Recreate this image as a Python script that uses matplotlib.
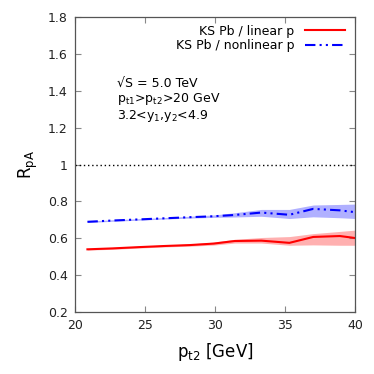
import numpy as np
import matplotlib
matplotlib.use("Agg")
import matplotlib.pyplot as plt

# values
pt2 = [20.9, 22.7, 24.6, 26.4, 28.2, 29.9, 31.4, 33.3, 35.3, 37.0, 38.9, 40.0]

lin = [0.541, 0.546, 0.553, 0.559, 0.564, 0.572, 0.586, 0.588, 0.576, 0.608, 0.613, 0.602]
lin_lo = [0.537, 0.541, 0.548, 0.554, 0.558, 0.564, 0.575, 0.575, 0.563, 0.565, 0.563, 0.563]
lin_hi = [0.545, 0.551, 0.558, 0.564, 0.570, 0.580, 0.595, 0.605, 0.610, 0.626, 0.638, 0.645]

nonlin = [0.690, 0.697, 0.703, 0.709, 0.715, 0.720, 0.727, 0.740, 0.728, 0.760, 0.752, 0.742]
nonlin_lo = [0.686, 0.693, 0.699, 0.705, 0.710, 0.714, 0.716, 0.720, 0.708, 0.717, 0.712, 0.708]
nonlin_hi = [0.694, 0.701, 0.707, 0.713, 0.720, 0.727, 0.739, 0.757, 0.757, 0.781, 0.784, 0.786]

plt.rcParams["font.family"] = "DejaVu Sans"
plt.rcParams["font.size"] = 9

fig = plt.figure(figsize=(3.74, 3.74), dpi=100)
ax = fig.add_axes([0.2, 0.165, 0.75, 0.79])

ax.fill_between(pt2, lin_lo, lin_hi, color="#ffb0b0", lw=0)
ax.fill_between(pt2, nonlin_lo, nonlin_hi, color="#b0b0ff", lw=0)
ax.plot(pt2, lin, color="red", lw=1.5, label="KS Pb / linear p")
ax.plot(pt2, nonlin, color="blue", lw=1.5, dashes=[5, 2, 1, 2, 1, 2],
        label="KS Pb / nonlinear p")
ax.axhline(1.0, color="black", lw=1, ls=(0, (1, 2)))

ax.set_xlim(20, 40)
ax.set_ylim(0.2, 1.8)
ax.set_xticks([20, 25, 30, 35, 40])
ax.set_yticks([0.2, 0.4, 0.6, 0.8, 1.0, 1.2, 1.4, 1.6, 1.8])
ax.set_yticklabels(["0.2", "0.4", "0.6", "0.8", "1", "1.2", "1.4", "1.6", "1.8"])
ax.tick_params(direction="in", top=True, right=True, length=4, width=0.8,
               color="#888888", labelcolor="#222222", pad=5)
for s in ax.spines.values():
    s.set_color("#555555")
    s.set_linewidth(0.9)

ax.set_xlabel(r"p$_{\rm t2}$ [GeV]", fontsize=12, labelpad=6)
ax.set_ylabel(r"R$_{\rm pA}$", fontsize=12, labelpad=6)

leg = ax.legend(loc="upper right", bbox_to_anchor=(0.982, 0.99), frameon=False,
                markerfirst=False, handlelength=3.2, fontsize=9,
                borderaxespad=0.0, labelspacing=0.1, handletextpad=0.9)
for t in leg.get_texts():
    t.set_ha("right")
leg._legend_box.align = "right"

ax.text(0.151, 0.764, "√S = 5.0 TeV", transform=ax.transAxes, fontsize=9,
        va="baseline")
ax.text(0.151, 0.713, r"p$_{\rm t1}$>p$_{\rm t2}$>20 GeV", transform=ax.transAxes,
        fontsize=9, va="baseline")
ax.text(0.151, 0.655, r"3.2<y$_1$,y$_2$<4.9", transform=ax.transAxes, fontsize=9,
        va="baseline")

fig.savefig("out.png", dpi=100)
